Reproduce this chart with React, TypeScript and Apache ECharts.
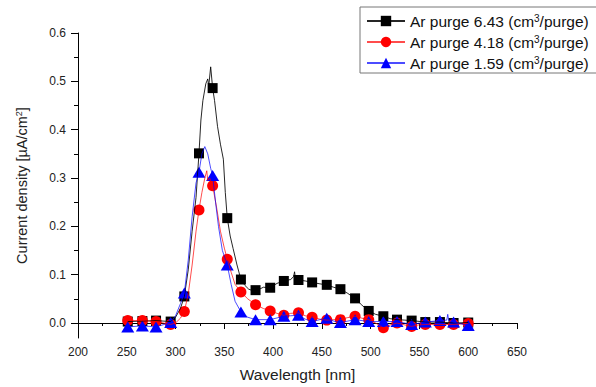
import React, { useEffect, useRef } from "react";
import * as echarts from "echarts";

// Sampled (marker) wavelengths, nm
const markerNm = [251, 266, 280, 295, 309, 324, 338, 353, 367, 382, 397, 411, 426, 440, 455, 469, 484, 498, 513, 527, 542, 556, 571, 585, 600];
// Marker values, µA/cm²
const markers643 = [0.003, 0.004, 0.005, 0.003, 0.055, 0.351, 0.486, 0.217, 0.09, 0.068, 0.073, 0.087, 0.089, 0.084, 0.079, 0.07, 0.051, 0.025, 0.014, 0.007, 0.005, 0.002, 0.002, 0.0, 0.001];
const markers418 = [0.005, 0.005, 0.003, -0.003, 0.024, 0.234, 0.284, 0.132, 0.064, 0.038, 0.025, 0.016, 0.021, 0.012, 0.006, 0.007, 0.014, 0.007, -0.01, 0.0, -0.007, -0.003, -0.003, -0.003, -0.001];
const markers159 = [-0.008, -0.006, -0.008, 0.001, 0.062, 0.312, 0.305, 0.12, 0.023, 0.007, 0.007, 0.014, 0.016, 0.003, 0.01, 0.001, 0.007, 0.003, 0.003, 0.003, -0.003, 0.002, 0.005, 0.002, -0.005];

// Continuous traces
const lineNm643 = [251, 266, 280, 295, 300, 305, 309, 313, 317, 321, 324, 326, 328, 331, 333, 334, 336, 338, 340, 343, 346, 349, 351, 353, 356, 359, 363, 367, 371, 375, 379, 382, 386, 390, 397, 404, 411, 418, 421, 422, 423, 426, 433, 440, 448, 455, 462, 469, 476, 484, 491, 498, 505, 513, 520, 527, 535, 542, 556, 571, 585, 600];
const lineVal643 = [0.003, 0.004, 0.005, 0.003, 0.012, 0.03, 0.055, 0.11, 0.19, 0.26, 0.351, 0.42, 0.46, 0.495, 0.505, 0.49, 0.53, 0.486, 0.46, 0.407, 0.37, 0.339, 0.27, 0.217, 0.18, 0.154, 0.12, 0.09, 0.078, 0.07, 0.067, 0.068, 0.07, 0.074, 0.073, 0.082, 0.087, 0.09, 0.096, 0.106, 0.09, 0.089, 0.087, 0.084, 0.081, 0.079, 0.074, 0.07, 0.062, 0.051, 0.037, 0.025, 0.018, 0.014, 0.009, 0.007, 0.006, 0.005, 0.002, 0.002, 0.0, 0.001];
const lineNm418 = [251, 266, 280, 295, 300, 305, 309, 313, 317, 321, 324, 327, 330, 332, 333, 335, 338, 342, 346, 350, 353, 357, 361, 367, 374, 382, 390, 397, 404, 411, 418, 426, 433, 440, 448, 455, 462, 469, 476, 484, 491, 498, 505, 513, 520, 527, 535, 542, 549, 556, 571, 585, 600];
const lineVal418 = [0.005, 0.005, 0.003, -0.003, 0.0, 0.01, 0.024, 0.06, 0.12, 0.19, 0.234, 0.27, 0.3, 0.315, 0.295, 0.3, 0.284, 0.24, 0.19, 0.155, 0.132, 0.105, 0.08, 0.064, 0.05, 0.038, 0.03, 0.025, 0.02, 0.016, 0.02, 0.021, 0.015, 0.012, 0.008, 0.006, 0.007, 0.007, 0.011, 0.014, 0.01, 0.007, 0.0, -0.01, -0.004, 0.0, -0.004, -0.007, -0.004, -0.003, -0.003, -0.003, -0.001];
const lineNm159 = [251, 266, 280, 295, 300, 305, 309, 313, 317, 321, 324, 327, 330, 333, 336, 338, 341, 344, 348, 353, 357, 361, 367, 374, 382, 397, 411, 418, 426, 433, 440, 448, 455, 462, 469, 484, 498, 513, 527, 542, 556, 571, 578, 579, 580, 585, 600];
const lineVal159 = [-0.008, -0.006, -0.008, 0.001, 0.015, 0.04, 0.062, 0.13, 0.22, 0.29, 0.312, 0.35, 0.365, 0.35, 0.32, 0.305, 0.25, 0.2, 0.15, 0.12, 0.08, 0.045, 0.023, 0.012, 0.007, 0.007, 0.014, 0.015, 0.016, 0.008, 0.003, 0.007, 0.01, 0.004, 0.001, 0.007, 0.003, 0.003, 0.003, -0.003, 0.002, 0.005, 0.006, 0.018, 0.005, 0.002, -0.005];

const seriesNames = ["Ar purge 6.43 (cm3/purge)", "Ar purge 4.18 (cm3/purge)", "Ar purge 1.59 (cm3/purge)"];
const yMajorTicks = [0, 0.1, 0.2, 0.3, 0.4, 0.5, 0.6];
const yMinorTicks = [0.05, 0.15, 0.25, 0.35, 0.45, 0.55];

const FONT = "'Liberation Sans', Arial, sans-serif";

const zip = (xs: number[], ys: number[]) => xs.map((x, i) => [x, ys[i]]);

export default function App() {
  const ref = useRef<HTMLDivElement>(null);
  useEffect(() => {
    document.body.style.margin = "0";
    const chart = echarts.init(ref.current!, null, { renderer: "svg" });
    const colors = ["#000000", "#ff0000", "#0000ff"];
    const symbols = ["rect", "circle", "triangle"];
    const sizes: any[] = [10, 11, [13, 11]];
    const lines = [zip(lineNm643, lineVal643), zip(lineNm418, lineVal418), zip(lineNm159, lineVal159)];
    const marks = [zip(markerNm, markers643), zip(markerNm, markers418), zip(markerNm, markers159)];
    const series: any[] = [];
    for (let i = 0; i < 3; i++) {
      series.push({
        type: "line",
        name: seriesNames[i],
        data: lines[i],
        showSymbol: false,
        symbol: symbols[i],
        symbolSize: 10,
        color: colors[i],
        itemStyle: { color: colors[i] },
        lineStyle: { color: colors[i], width: 1, opacity: i === 0 ? 0.85 : 0.7 },
        emphasis: { disabled: true },
      });
      series.push({
        type: "scatter",
        name: seriesNames[i] + " markers",
        data: marks[i],
        symbol: symbols[i],
        symbolSize: sizes[i],
        itemStyle: { color: colors[i], opacity: 1 },
        emphasis: { disabled: true },
      });
    }
    const axisCommon = {
      axisLine: { lineStyle: { color: "#000", width: 1 } },
      splitLine: { show: false },
    };
    chart.setOption({
      animation: false,
      textStyle: { fontFamily: FONT },
      grid: { left: 78, right: 79, top: 33, bottom: 47, containLabel: false },
      legend: {
        orient: "vertical",
        left: 360,
        top: 7,
        padding: [6, 8, 2, 6],
        itemWidth: 38,
        itemHeight: 13,
        itemGap: 5,
        borderColor: "#777",
        borderWidth: 1,
        borderRadius: 0,
        data: seriesNames,
        formatter: (n: string) => {
          const parts = n.split("cm3");
          return "{a|" + parts[0] + "cm}{s|3}{a|" + parts[1] + "}";
        },
        textStyle: {
          fontFamily: FONT,
          color: "#111",
          rich: {
            a: { fontSize: 15.5, lineHeight: 16, fontFamily: FONT, color: "#111" },
            s: { fontSize: 10, lineHeight: 9, verticalAlign: "top", fontFamily: FONT, color: "#111" },
          },
        },
      },
      xAxis: {
        type: "value",
        min: 200,
        max: 650,
        interval: 50,
        ...axisCommon,
        axisTick: { show: true, length: 6, lineStyle: { color: "#000" } },
        minorTick: { show: true, splitNumber: 2, length: 3, lineStyle: { color: "#000" } },
        axisLabel: { fontSize: 12, margin: 8, color: "#222", fontFamily: FONT },
        name: "Wavelength [nm]",
        nameLocation: "middle",
        nameGap: 28,
        nameTextStyle: { fontSize: 15.5, color: "#222", fontFamily: FONT },
      },
      yAxis: [
        {
          type: "value",
          min: -0.031,
          max: 0.6,
          ...axisCommon,
          axisTick: { show: true, length: 7, customValues: yMajorTicks, lineStyle: { color: "#000" } },
          axisLabel: {
            fontSize: 12,
            margin: 12,
            color: "#222",
            fontFamily: FONT,
            customValues: yMajorTicks,
            formatter: (v: number) => v.toFixed(1),
          },
          name: "{a|Current density [µA/cm}{s|2}{a|]}",
          nameLocation: "middle",
          nameGap: 48,
          nameRotate: 90,
          nameTextStyle: {
            fontFamily: FONT,
            color: "#222",
            rich: {
              a: { fontSize: 14.5, lineHeight: 16, fontFamily: FONT, color: "#222" },
              s: { fontSize: 9, lineHeight: 9, verticalAlign: "top", fontFamily: FONT, color: "#222" },
            },
          },
        },
        {
          type: "value",
          min: -0.031,
          max: 0.6,
          position: "left",
          axisLine: { show: false },
          splitLine: { show: false },
          axisTick: { show: true, length: 4, customValues: yMinorTicks, lineStyle: { color: "#000" } },
          axisLabel: { show: false },
        },
      ],
      series,
    });
    return () => chart.dispose();
  }, []);
  return <div ref={ref} style={{ width: 596, height: 387 }} />;
}
